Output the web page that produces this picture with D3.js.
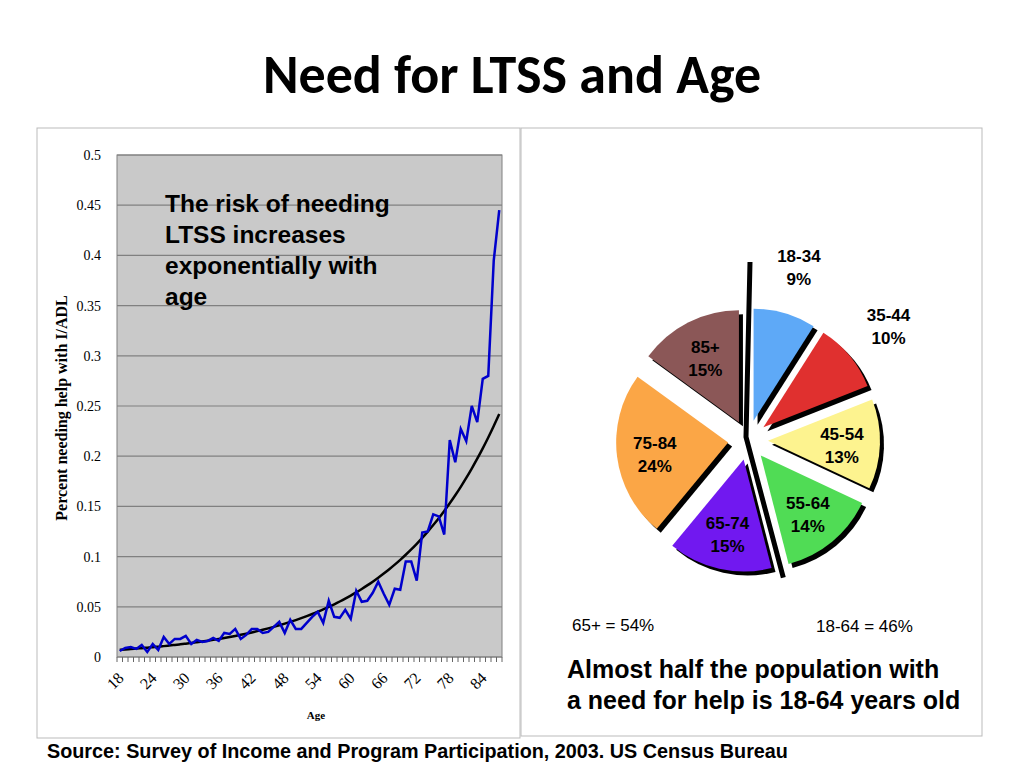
<!DOCTYPE html>
<html><head><meta charset="utf-8">
<script src="https://cdn.jsdelivr.net/npm/d3@7"></script>
<style>body{margin:0;background:#fff}</style></head>
<body><svg id="c" width="1024" height="768"></svg>
<script>
const ages = d3.range(18, 88);
const needValues = [0.006,0.009,0.010,0.008,0.012,0.005,0.013,0.007,0.020,0.013,
0.018,0.018,0.021,0.013,0.017,0.015,0.016,0.019,0.016,0.024,
0.023,0.028,0.018,0.022,0.028,0.028,0.024,0.025,0.030,0.035,
0.024,0.037,0.028,0.028,0.034,0.040,0.045,0.034,0.056,0.040,
0.039,0.047,0.038,0.066,0.055,0.056,0.064,0.075,0.063,0.052,
0.068,0.067,0.095,0.095,0.076,0.124,0.125,0.142,0.140,0.122,
0.216,0.194,0.227,0.215,0.250,0.234,0.277,0.280,0.395,0.445];
const xTickLabels = [18,24,30,36,42,48,54,60,66,72,78,84];
const yTicks = [0,0.05,0.1,0.15,0.2,0.25,0.3,0.35,0.4,0.45,0.5];
const pieLabels = ["18-34","35-44","45-54","55-64","65-74","75-84","85+"];
const pieValues = [9,10,13,14,15,24,15];
const pieColors = ["#5ea9f7","#e0302f","#fdf38f","#50dc55","#7118f0","#fba646","#8b5757"];

const svg = d3.select("#c");
svg.append("text").attr("x",512).attr("y",93).attr("text-anchor","middle")
 .attr("font-family","Carlito, 'Open Sans', sans-serif").attr("font-weight","bold").attr("font-size",54).text("Need for LTSS and Age");
svg.append("rect").attr("x",37).attr("y",128).attr("width",483).attr("height",610).attr("fill","none").attr("stroke","#bbb");
svg.append("rect").attr("x",521).attr("y",128).attr("width",461).attr("height",608).attr("fill","none").attr("stroke","#bbb");

const L=117,R=502,T=155,B=657;
const x = d3.scaleLinear().domain([17.5,87.5]).range([L,R]);
const y = d3.scaleLinear().domain([0,0.5]).range([B,T]);
svg.append("rect").attr("x",L).attr("y",T).attr("width",R-L).attr("height",B-T).attr("fill","#c9c9c9").attr("stroke","#808080");
svg.append("g").selectAll("line").data(yTicks).join("line")
 .attr("x1",L).attr("x2",R).attr("y1",d=>y(d)).attr("y2",d=>y(d)).attr("stroke","#808080").attr("stroke-width",1.2);
svg.append("g").selectAll("text").data(yTicks).join("text")
 .attr("x",101).attr("y",d=>y(d)+5).attr("text-anchor","end").attr("font-family","Liberation Serif, serif").attr("font-size",14).text(d=>d);
svg.append("g").selectAll("line").data(d3.range(17.5,88.5,1)).join("line")
 .attr("x1",d=>x(d)).attr("x2",d=>x(d)).attr("y1",B).attr("y2",B+5).attr("stroke","#666");
svg.append("g").selectAll("text").data(xTickLabels).join("text")
 .attr("transform",d=>`translate(${x(d)+5},${B+22}) rotate(-45)`).attr("text-anchor","end")
 .attr("font-family","Liberation Serif, serif").attr("font-size",16).text(d=>d);
svg.append("text").attr("x",316).attr("y",719).attr("text-anchor","middle").attr("font-family","Liberation Serif, serif").attr("font-weight","bold").attr("font-size",11).text("Age");
svg.append("text").attr("transform","translate(67,408) rotate(-90)").attr("text-anchor","middle").attr("font-family","Liberation Serif, serif").attr("font-weight","bold").attr("font-size",16).text("Percent needing help with I/ADL");

const lx=ages, ly=needValues.map(Math.log);
const mx=d3.mean(lx), my=d3.mean(ly);
const b=d3.sum(lx.map((v,i)=>(v-mx)*(ly[i]-my)))/d3.sum(lx.map(v=>(v-mx)**2));
const a=Math.exp(my-b*mx);
svg.append("path").datum(ages).attr("fill","none").attr("stroke","#000").attr("stroke-width",2.5)
 .attr("d",d3.line().x(d=>x(d)).y(d=>y(a*Math.exp(b*d))).curve(d3.curveBasis));
svg.append("path").datum(ages).attr("fill","none").attr("stroke","#0000cc").attr("stroke-width",2.5)
 .attr("d",d3.line().x(d=>x(d)).y((d,i)=>y(needValues[i])));
const note=svg.append("text").attr("font-family","Liberation Sans, Arial, sans-serif").attr("font-weight","bold").attr("font-size",24.5);
["The risk of needing","LTSS increases","exponentially with","age"].forEach((t,i)=>note.append("tspan").attr("x",165).attr("y",212+i*31).text(t));

const cx=748, cy=440, r=112, ex=20;
const arcs=d3.pie().sort(null).value(d=>d)(pieValues);
const arc=d3.arc().innerRadius(0).outerRadius(r);
const g=svg.append("g").attr("transform",`translate(${cx},${cy})`);
arcs.forEach((d,i)=>{
  const m=(d.startAngle+d.endAngle)/2, dx=Math.sin(m)*ex, dy=-Math.cos(m)*ex;
  const s=g.append("g").attr("transform",`translate(${dx},${dy})`);
  s.append("path").attr("d",arc(d)).attr("transform","translate(4,4)").attr("fill","#000");
  s.append("path").attr("d",arc(d)).attr("fill",pieColors[i]);
  const out=pieValues[i]<11, lr=out? r*1.45 : r*0.66;
  const lxp=Math.sin(m)*lr, lyp=-Math.cos(m)*lr;
  const t=s.append("text").attr("text-anchor","middle").attr("font-family","Liberation Sans, Arial, sans-serif").attr("font-weight","bold").attr("font-size",17);
  t.append("tspan").attr("x",lxp).attr("y",lyp-3).text(pieLabels[i]);
  t.append("tspan").attr("x",lxp).attr("y",lyp+20).text(pieValues[i]+"%");
});
const split=arcs[3].endAngle;
g.append("path").attr("d",`M2,-178 L-2,-3 L${Math.sin(split)*142},${-Math.cos(split)*142}`).attr("fill","none").attr("stroke","#000").attr("stroke-width",5);

const f="Liberation Sans, Arial, sans-serif";
svg.append("text").attr("x",572).attr("y",631).attr("font-family",f).attr("font-size",17).text("65+ = 54%");
svg.append("text").attr("x",816).attr("y",632).attr("font-family",f).attr("font-size",17).text("18-64 = 46%");
svg.append("text").attr("x",567).attr("y",678).attr("font-family",f).attr("font-weight","bold").attr("font-size",25).text("Almost half the population with");
svg.append("text").attr("x",567).attr("y",709).attr("font-family",f).attr("font-weight","bold").attr("font-size",25).text("a need for help is 18-64 years old");
svg.append("text").attr("x",47).attr("y",758).attr("font-family",f).attr("font-weight","bold").attr("font-size",19.8).text("Source: Survey of Income and Program Participation, 2003. US Census Bureau");
</script></body></html>
